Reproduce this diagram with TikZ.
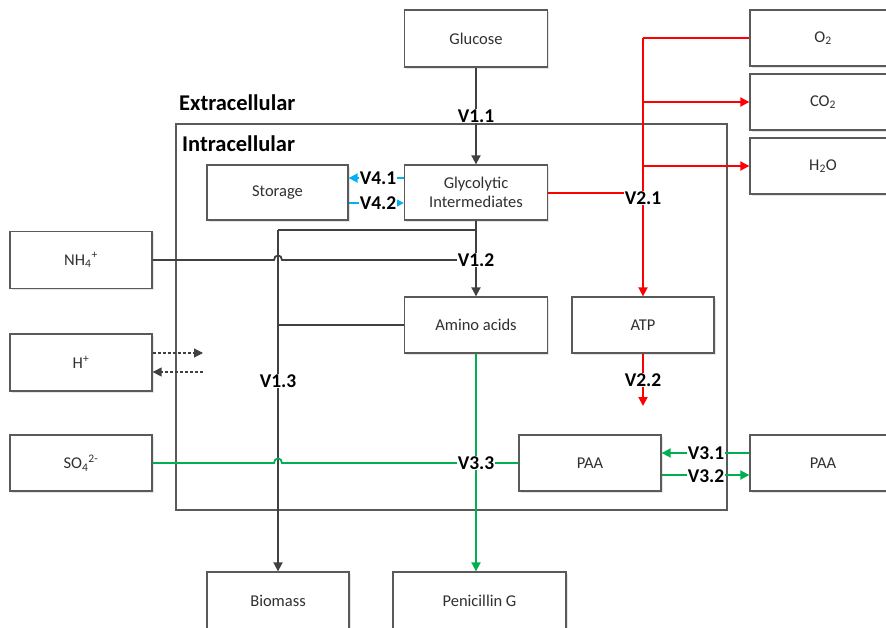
\documentclass[tikz,border=0pt]{standalone}
\usepackage{fontspec}
\setmainfont{Carlito}
\usetikzlibrary{arrows.meta,shadows}
\definecolor{boxc}{HTML}{5A5A5A}
\definecolor{linec}{HTML}{404040}
\definecolor{txtc}{HTML}{303030}
\definecolor{redc}{HTML}{FF0000}
\definecolor{greenc}{HTML}{00B050}
\definecolor{cyanc}{HTML}{00B0F0}
\tikzset{
  box/.style={draw=boxc, line width=1.3pt, fill=white, inner sep=0pt, text=txtc, font=\fontsize{16.5}{19}\selectfont, align=center,
    drop shadow={opacity=0.2, shadow xshift=1.5pt, shadow yshift=-1.5pt}},
  vlab/.style={fill=white, inner sep=1pt, font=\bfseries\fontsize{19.5}{21}\selectfont},
  ttl/.style={anchor=west, inner sep=0pt, font=\bfseries\fontsize{22.5}{24}\selectfont},
  tip/.style={-{Triangle[length=9pt,width=9pt]}},
  blk/.style={draw=linec, line width=1.8pt},
  redl/.style={draw=redc, line width=1.8pt},
  grn/.style={draw=greenc, line width=1.8pt},
  cyn/.style={draw=cyanc, line width=1.8pt},
}
\begin{document}
\begin{tikzpicture}[x=1pt,y=-1pt]
\clip (0,0) rectangle (886,627);
\fill[white] (0,0) rectangle (886,627);
% intracellular compartment
\draw[draw=boxc, line width=1.3pt] (176,124) rectangle (727,510);
\node[ttl] (extra) at (179,103) {Extracellular};
\node[ttl] (intra) at (182,144) {Intracellular};
% boxes
\node[box, minimum width=143pt, minimum height=57pt] (glc) at (476,38.5) {Glucose};
\node[box, minimum width=146pt, minimum height=56pt] (o2) at (823,38) {O\textsubscript{2}};
\node[box, minimum width=146pt, minimum height=56pt] (co2) at (823,102) {CO\textsubscript{2}};
\node[box, minimum width=146pt, minimum height=56pt] (h2o) at (823,166) {H\textsubscript{2}O};
\node[box, minimum width=141pt, minimum height=55pt] (sto) at (277.5,192.5) {Storage};
\node[box, minimum width=143pt, minimum height=55pt] (gly) at (476,192.5) {Glycolytic\\Intermediates};
\node[box, minimum width=142pt, minimum height=57pt] (nh4) at (81,260) {NH\textsubscript{4}\textsuperscript{+}};
\node[box, minimum width=142pt, minimum height=57pt] (hp) at (81,362.5) {H\textsuperscript{+}};
\node[box, minimum width=142pt, minimum height=56pt] (so4) at (81,463) {SO\textsubscript{4}\textsuperscript{2-}};
\node[box, minimum width=143pt, minimum height=56pt] (ami) at (476,325) {Amino acids};
\node[box, minimum width=142pt, minimum height=56pt] (atp) at (643,325) {ATP};
\node[box, minimum width=142pt, minimum height=56pt] (paai) at (590,463) {PAA};
\node[box, minimum width=146pt, minimum height=56pt] (paao) at (823,463) {PAA};
\node[box, minimum width=142pt, minimum height=58pt] (bio) at (278,601) {Biomass};
\node[box, minimum width=173pt, minimum height=58pt] (pen) at (479.5,601) {Penicillin G};
% coordinates
\coordinate (j1) at (476,230);
\coordinate (j2) at (278,230);
\coordinate (j3) at (278,325);
\coordinate (r1) at (643,38);
\coordinate (r2) at (643,102);
\coordinate (r3) at (643,166);
\coordinate (r4) at (643,193);
\coordinate (a1) at (643,406);
\coordinate (h1) at (203,353);
\coordinate (h2) at (203,372);
% black connectors
\draw[blk, tip] (glc.south) -- (gly.north);
\draw[blk, tip] (gly.south) -- (ami.north);
\draw[blk] (j1) -- (j2);
\draw[blk, tip] (j2) -- (bio.north);
\draw[blk] (ami.west) -- (j3);
\draw[blk] (nh4.east) -- (274,260) .. controls (274,254) and (282,254) .. (282,260) -- (476,260);
% H+ dashed
\draw[blk, line width=1.1pt, dash pattern=on 3pt off 2pt, tip] (hp.east |- h1) -- (h1);
\draw[blk, line width=1.1pt, dash pattern=on 3pt off 2pt, tip] (h2) -- (hp.east |- h2);
% cyan
\draw[cyn, tip] (gly.west |- 0,178) -- (sto.east |- 0,178);
\draw[cyn, tip] (sto.east |- 0,203) -- (gly.west |- 0,203);
% red
\draw[redl] (o2.west) -- (r1);
\draw[redl, tip] (r1) -- (atp.north);
\draw[redl, tip] (r2) -- (co2.west);
\draw[redl, tip] (r3) -- (h2o.west);
\draw[redl] (gly.east |- r4) -- (r4);
\draw[redl, tip] (atp.south) -- (a1);
% green
\draw[grn, tip] (ami.south) -- (ami.south |- pen.north);
\draw[grn] (so4.east) -- (274,463) .. controls (274,457) and (282,457) .. (282,463) -- (paai.west);
\draw[grn, tip] (paao.west |- 0,453) -- (paai.east |- 0,453);
\draw[grn, tip] (paai.east |- 0,475) -- (paao.west |- 0,475);
% labels
\node[vlab] (v11) at (476,116) {V1.1};
\node[vlab] (v12) at (476,260) {V1.2};
\node[vlab] (v13) at (278,381) {V1.3};
\node[vlab] (v21) at (643,198) {V2.1};
\node[vlab] (v22) at (643,380) {V2.2};
\node[vlab] (v33) at (476,463) {V3.3};
\node[vlab] (v31) at (706,453) {V3.1};
\node[vlab] (v32) at (706,476) {V3.2};
\node[vlab] (v41) at (378,178) {V4.1};
\node[vlab] (v42) at (378,203) {V4.2};
\end{tikzpicture}
\end{document}
